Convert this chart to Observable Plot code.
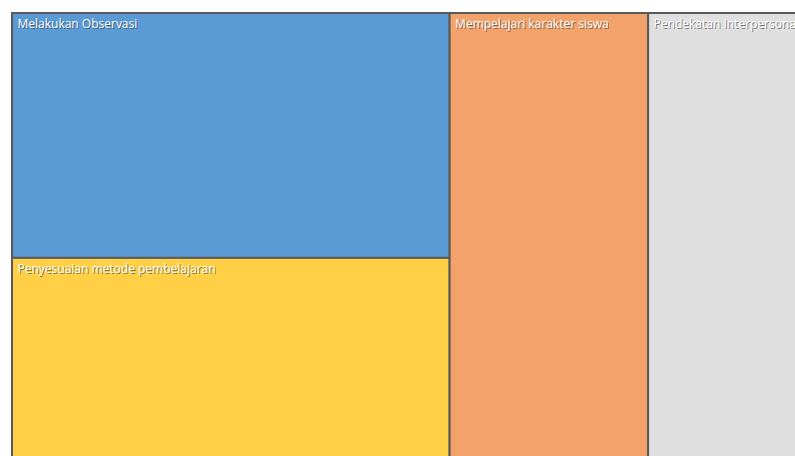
<!DOCTYPE html>
<html>
<head>
<meta charset="utf-8">
<script src="https://cdn.jsdelivr.net/npm/d3@7"></script>
<script src="https://cdn.jsdelivr.net/npm/@observablehq/plot@0.6"></script>
<style>
  html, body { margin: 0; padding: 0; background: #fff; overflow: hidden; }
</style>
</head>
<body>
<div id="chart"></div>
<script>
// Data
const categories = ["Melakukan Observasi", "Penyesuaian metode pembelajaran", "Mempelajari karakter siswa", "Pendekatan Interpersonal"];
const groups = ["A", "A", "B", "C"];
const values = [107, 87, 88, 66];
const colors = ["#5B9BD5", "#FFD045", "#F2A26A", "#DFDFDF"];

const W = 785, H = 444;

// Build hierarchy: column groups laid left to right, children stacked top to bottom
const groupNames = Array.from(new Set(groups));
const rootData = {
  name: "root",
  children: groupNames.map(g => ({
    name: g,
    children: categories.map((c, i) => ({name: c, value: values[i], color: colors[i], group: groups[i]})).filter(d => d.group === g)
  }))
};
const root = d3.hierarchy(rootData).sum(d => d.value || 0);
d3.treemap()
  .size([W, H])
  .paddingInner(0)
  .round(false)
  .tile((node, x0, y0, x1, y1) => {
    if (node.depth === 0) d3.treemapDice(node, x0, y0, x1, y1);
    else d3.treemapSlice(node, x0, y0, x1, y1);
  })(root);

const leaves = root.leaves().map(l => ({name: l.data.name, color: l.data.color, x0: l.x0, x1: l.x1, y0: l.y0, y1: l.y1}));

const chart = Plot.plot({
  width: 795,
  height: 456,
  marginLeft: 12,
  marginTop: 13,
  marginRight: 0,
  marginBottom: 0,
  x: {domain: [0, W], range: [12, 797], axis: null},
  y: {domain: [0, H], range: [13, 457], axis: null},
  style: {fontFamily: "'Open Sans', 'Noto Sans', sans-serif", background: "#fff"},
  marks: [
    Plot.rect(leaves, {x1: "x0", x2: "x1", y1: "y0", y2: "y1", fill: d => d.color, stroke: "#595959", strokeWidth: 2}),
    Plot.text(leaves, {x: "x0", y: "y0", text: "name", textAnchor: "start", lineAnchor: "top", dx: 6, dy: 7, fill: "#333", fillOpacity: 0.6, fontSize: 12, fontWeight: 500}),
    Plot.text(leaves, {x: "x0", y: "y0", text: "name", textAnchor: "start", lineAnchor: "top", dx: 5, dy: 6, fill: "#ffffff", fontSize: 12, fontWeight: 500})
  ]
});
document.getElementById("chart").appendChild(chart);
</script>
</body>
</html>
